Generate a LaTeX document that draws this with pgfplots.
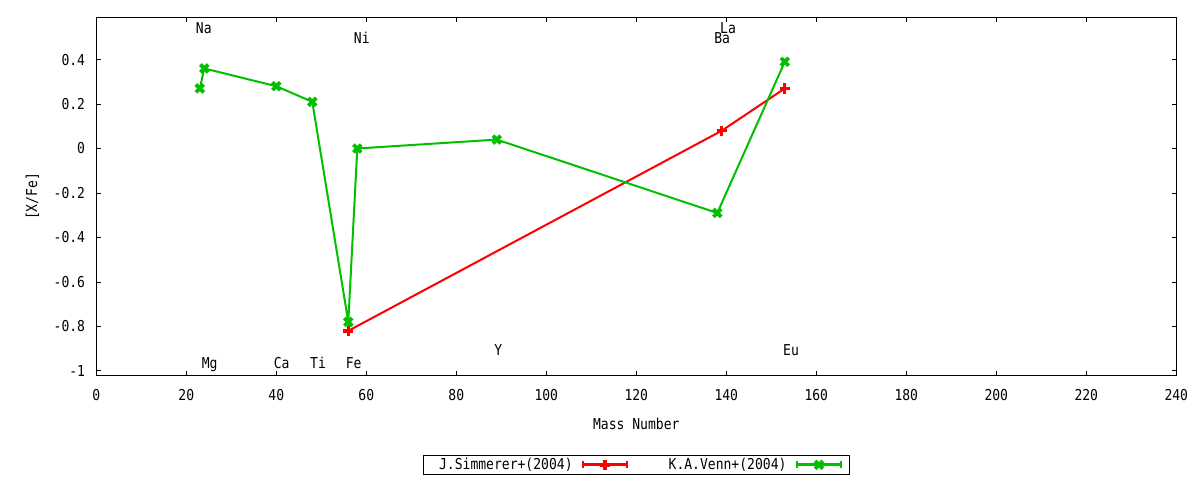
\documentclass[border=0pt]{standalone}
\usepackage{pgfplots}
\pgfplotsset{compat=1.18}
\usepackage{fontspec}
\setmainfont{DejaVu Sans Mono}[FakeStretch=0.87]
\definecolor{gpgreen}{RGB}{0,192,0}
\definecolor{gpred}{RGB}{255,0,0}
\pgfplotstableread{
x y
56 -0.82
139 0.08
153 0.27
}\simmerer
\pgfplotstableread{
x y
23 0.27
24 0.36
40 0.28
48 0.21
56 -0.78
58 0.00
89 0.04
138 -0.29
153 0.39
}\venn
\begin{document}
\begin{tikzpicture}[font=\fontsize{15bp}{18bp}\selectfont]
\useasboundingbox (0,0) rectangle (1200bp,480bp);
\begin{axis}[
  at={(96.3bp,104.7bp)}, anchor=south west,
  scale only axis, width=1080bp, height=358bp,
  xmin=0, xmax=240, ymin=-1.02, ymax=0.59,
  xtick={0,20,...,240},
  ytick={-1,-0.8,-0.6,-0.4,-0.2,0,0.2,0.4},
  /pgf/number format/assume math mode=true,
  tick align=inside, major tick length=4.5bp,
  tick style={black, line width=0.8bp},
  axis line style={black, line width=1bp},
  xticklabel style={anchor=north, inner sep=0pt, yshift=-14bp},
  yticklabel style={anchor=east, inner sep=0pt, xshift=-11bp},
  xlabel={Mass Number},
  ylabel={[X/Fe]},
  xlabel style={at={(axis description cs:0.5,0)}, anchor=center, inner sep=0pt, yshift=-49bp},
  ylabel style={at={([xshift=-64bp]axis description cs:0,0.5)}, anchor=center, inner sep=0pt},
  legend plot pos=right,
  legend columns=2,
  legend style={at={(0.5,-0.25)}, anchor=center, draw=black, line width=1bp,
    inner xsep=7bp, inner ysep=3bp,
    nodes={inner sep=0pt},
    /tikz/every odd column/.append style={column sep=9bp},
    /tikz/every even column/.append style={column sep=40bp},
    font=\fontsize{15bp}{18bp}\selectfont},
  legend cell align=left,
  legend image code/.code={
    \draw[mark repeat=2, mark phase=2, #1, line width=3bp] plot coordinates {(0bp,0bp) (22bp,0bp) (44bp,0bp)};
    \draw[#1, mark=none, line width=2.5bp] (0bp,-3.5bp) -- (0bp,3.5bp) (44bp,-3.5bp) -- (44bp,3.5bp);
  },
  clip=false,
]
\addplot[gpred, line width=2bp, mark=+, mark size=5.2bp, mark options={line width=3.4bp}] table[x=x,y=y] {\simmerer};
\addlegendentry{\hspace*{9bp}J.Simmerer+(2004)}
\addplot[gpgreen, line width=2bp, mark=x, mark size=5.5bp, mark options={line width=3.8bp}] table[x=x,y=y] {\venn};
\addlegendentry{K.A.Venn+(2004)}
\begin{scope}[every node/.style={anchor=base west, inner sep=0pt}]
\node at (axis cs:22.1,0.518) {Na};
\node at (axis cs:57.2,0.473) {Ni};
\node at (axis cs:138.6,0.518) {La};
\node at (axis cs:137.3,0.473) {Ba};
\node at (axis cs:23.4,-0.991) {Mg};
\node at (axis cs:39.4,-0.991) {Ca};
\node at (axis cs:47.5,-0.991) {Ti};
\node at (axis cs:55.4,-0.991) {Fe};
\node at (axis cs:88.4,-0.929) {Y};
\node at (axis cs:152.6,-0.929) {Eu};
\end{scope}
\end{axis}
\end{tikzpicture}
\end{document}
